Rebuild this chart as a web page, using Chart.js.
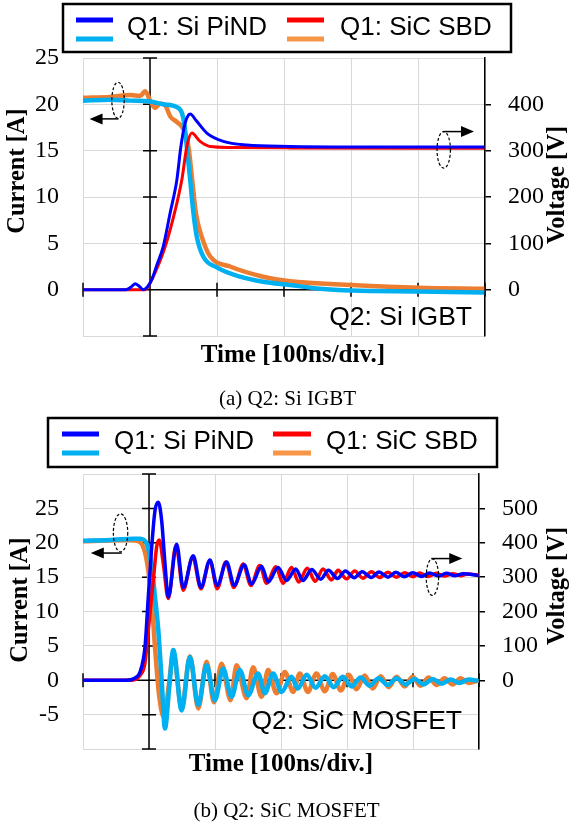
<!DOCTYPE html>
<html lang="en">
<head>
<meta charset="UTF-8">
<title>Q1 diode comparison: Si PiND vs SiC SBD</title>
<script src="https://cdn.jsdelivr.net/npm/chart.js"></script>
<style>
  body { margin: 0; background: #fff; }
  canvas { display: block; }
</style>
</head>
<body>
<canvas id="chartA" width="571" height="410"></canvas>
<canvas id="chartB" width="571" height="420"></canvas>
<script>
// time in ns (100 ns/div), 0 = switching instant; [time, value]
const legendLabels = ['Q1: Si PiND', 'Q1: SiC SBD'];

// (a) Q2: Si IGBT
const aVoltPiND = [[-100,0],[-36,0],[-29,5],[-22,13],[-15,6],[-10.6,0],[-4,6],[2.8,22],[10,52],[19.7,93],[30.1,166],[40.1,237],[46.1,309],[52.5,360],[57.4,377],[60,379],[68.9,365],[84.8,338],[109.5,320],[144.4,312],[208.9,309],[301,308],[499,308]];
const aVoltSBD  = [[-100,0],[-7,0],[2.8,22],[22.7,93],[36.5,165],[47.5,237],[55,309],[62.4,338],[74.8,320],[89.7,309],[119.5,307],[208.9,306],[499,305]];
const aCurrPiND = [[-100,20.4],[-59,20.5],[-29.5,20.4],[0,20.3],[19.7,20.0],[40.1,19.7],[47.5,19.1],[51,18.0],[55,15.4],[59.9,11.9],[64.8,8.3],[69.9,5.7],[79.3,3.6],[99.7,2.4],[134.4,1.4],[168.7,0.85],[208.9,0.5],[253.7,0.1],[301,-0.1],[400,-0.2],[499,-0.3]];
const aCurrSBD  = [[-100,20.7],[-59,20.8],[-29.5,21.0],[-14.6,20.9],[-7.2,21.4],[0.3,20.4],[7.7,19.6],[15.2,20.1],[22.7,19.9],[30.1,18.7],[40.1,18.1],[47.5,17.6],[52.5,16.9],[57.4,15.4],[62.9,11.9],[68.4,8.3],[77.3,5.7],[89.7,3.6],[119.5,2.5],[168.7,1.4],[208.9,0.9],[301,0.5],[400,0.2],[499,0.1]];

// (b) Q2: SiC MOSFET
const bVoltPiND = [[-100,0],[-36,0],[-18.6,10],[-13.6,24],[-6.1,96],[-1.1,242],[4.1,388],[9.1,494],[14.1,518],[19.2,464],[24.2,340],[29.2,242],[41.9,396],[51.9,270],[67,362],[78.7,270],[92.3,350],[103.3,276],[117.6,344],[129.1,276],[144.2,336],[155.4,280],[170.5,332],[180.5,286],[195.6,328],[208.3,290],[222.4,324],[233,290],[246.6,322],[260.2,294],[272,320],[285.5,296],[297.5,318],[311,298],[323,316],[336.5,299],[348.5,315],[362,300],[374,314],[387.5,301],[399.5,313],[413,302],[425,312],[438.5,303],[450.5,311],[464,304],[476,310],[499.3,305]];
const bVoltSBD  = [[-100,0],[-28.7,0],[-13.6,14],[-6.1,50],[-1.1,146],[6.5,290],[11.6,388],[15.6,408],[21.6,340],[29.2,238],[40.8,392],[51.9,262],[66.1,358],[78.7,266],[92.3,348],[103.3,266],[116.5,344],[128.6,270],[142.7,338],[154.3,276],[167.9,334],[178.1,282],[192.1,330],[203.2,282],[215.9,328],[226.9,286],[239.8,326],[251.9,288],[263.7,324],[276.4,292],[286.4,320],[299.1,295],[311.7,318],[324.2,297],[336.9,316],[349.5,299],[362,314],[374.7,300],[387.3,313],[399.9,301],[410,312],[422.6,302],[435.3,311],[447.8,303],[460.4,310],[472,304],[483.1,309],[499.3,306]];
const bCurrPiND = [[-100,20.3],[-59,20.4],[-24.2,20.6],[-13.6,20.6],[-3.5,19.9],[4.1,16.5],[9.1,12.1],[14.1,7.3],[19.2,0],[24.2,-7.0],[30.7,-1],[36.8,4.4],[49.5,-4.4],[62,3.4],[74.6,-3.6],[87.3,2.2],[99.8,-2.9],[112.4,1.7],[125.1,-2.4],[137.7,1.5],[150.2,-2.2],[165.3,1.0],[175.5,-1.9],[188,1.0],[200.8,-1.7],[215.9,0.5],[225.4,-1.2],[239,0.8],[252.6,-1.1],[266.3,0.6],[279.9,-1.0],[293.5,0.5],[307.1,-0.9],[320.7,0.4],[334.4,-0.8],[348,0.3],[361.6,-0.7],[375.2,0.3],[388.8,-0.6],[402.4,0.2],[416.1,-0.6],[429.7,0.2],[443.3,-0.5],[456.9,0.1],[470.5,-0.4],[484.1,0.1],[499.3,-0.1]];
const bCurrSBD  = [[-100,20.2],[-28.7,20.4],[-13.6,20.1],[-6.1,18.6],[-1.1,16],[4.1,11.6],[9.1,4.8],[15.1,-2],[22.7,-5.4],[30.3,-0.5],[36.8,4.0],[49.5,-4.1],[62,3.5],[74.6,-4.1],[87.3,2.7],[98.3,-3.2],[109.9,2.4],[123.5,-2.9],[132.7,2.2],[147.8,-2.6],[157.8,1.9],[170.5,-2.4],[180.5,1.5],[193.2,-1.9],[205.8,1.2],[218.3,-1.7],[228.5,1.0],[240.6,-1.7],[253.7,1.0],[266.3,-1.6],[278.4,0.9],[290.5,-1.5],[302.6,0.8],[314.7,-1.3],[326.8,0.7],[338.9,-1.2],[351,0.6],[363.1,-1.0],[375.2,0.5],[387.3,-0.9],[399.4,0.5],[411.5,-0.8],[423.6,0.4],[435.7,-0.7],[447.8,0.3],[460,-0.6],[472.1,0.3],[484.2,-0.4],[499.3,0]];

const BLUE = '#0000ff', RED = '#ff0000', LBLUE = '#00b0f0', ORANGE = '#ed7d31';
const SERIF = '"Liberation Serif", "Times New Roman", serif';
const SANS = '"Liberation Sans", Arial, sans-serif';

const toXY = arr => arr.map(p => ({ x: p[0], y: p[1] }));

// axes, legend, titles and annotations drawn on the canvas
const decor = {
  id: 'decor',
  beforeDatasetsDraw(chart, args, o) {
    const { ctx, chartArea: a, scales: { x, y } } = chart;
    const x0 = x.getPixelForValue(0), y0 = y.getPixelForValue(0);
    ctx.save();
    ctx.strokeStyle = '#000';
    ctx.lineWidth = 1.5;
    ctx.beginPath();
    ctx.moveTo(x0, a.top); ctx.lineTo(x0, a.bottom);
    for (let v = y.min; v <= y.max; v += 5) {
      const py = y.getPixelForValue(v);
      ctx.moveTo(x0 - 7, py); ctx.lineTo(x0 + 7, py);
    }
    ctx.moveTo(a.left, y0); ctx.lineTo(a.right, y0);
    for (let t = x.min; t <= x.max; t += 100) {
      const px = x.getPixelForValue(t);
      ctx.moveTo(px, y0 - 7); ctx.lineTo(px, y0 + 7);
    }
    ctx.stroke();
    ctx.restore();
  },
  afterDraw(chart, args, o) {
    const { ctx, scales: { x, y } } = chart;
    ctx.save();
    // legend
    const L = o.legend;
    ctx.strokeStyle = '#000';
    ctx.lineWidth = 2.5;
    ctx.strokeRect(L.box[0], L.box[1], L.box[2] - L.box[0], L.box[3] - L.box[1]);
    ctx.font = '26px ' + SANS;
    ctx.fillStyle = '#000';
    ctx.textAlign = 'left';
    ctx.textBaseline = 'middle';
    L.items.forEach((it, i) => {
      ctx.lineWidth = 5;
      ctx.strokeStyle = it.c[0];
      ctx.beginPath(); ctx.moveTo(it.x1, L.rows[0]); ctx.lineTo(it.x2, L.rows[0]); ctx.stroke();
      ctx.strokeStyle = it.c[1];
      ctx.beginPath(); ctx.moveTo(it.x1, L.rows[1]); ctx.lineTo(it.x2, L.rows[1]); ctx.stroke();
      ctx.fillText(legendLabels[i], it.tx, L.ty);
    });
    // annotations: dashed ellipse + arrow
    o.marks.forEach(m => {
      const cx = x.getPixelForValue(m.t), cy = y.getPixelForValue(m.v);
      ctx.setLineDash([3, 2]);
      ctx.lineWidth = 1.2;
      ctx.strokeStyle = '#000';
      ctx.beginPath(); ctx.ellipse(cx, cy, m.rx, m.ry, 0, 0, Math.PI * 2); ctx.stroke();
      ctx.setLineDash([]);
      const ay = y.getPixelForValue(m.av), ax1 = x.getPixelForValue(m.from), ax2 = x.getPixelForValue(m.to);
      const dir = Math.sign(ax2 - ax1);
      ctx.lineWidth = 1.5;
      ctx.beginPath(); ctx.moveTo(ax1, ay); ctx.lineTo(ax2 - dir * 10, ay); ctx.stroke();
      ctx.fillStyle = '#000';
      ctx.beginPath(); ctx.moveTo(ax2, ay); ctx.lineTo(ax2 - dir * 13, ay - 5.5); ctx.lineTo(ax2 - dir * 13, ay + 5.5); ctx.closePath(); ctx.fill();
    });
    // texts
    o.texts.forEach(t => {
      ctx.save();
      ctx.font = t.font;
      ctx.fillStyle = '#000';
      ctx.textAlign = t.align || 'center';
      ctx.textBaseline = 'middle';
      ctx.translate(t.x, t.y);
      if (t.rot) ctx.rotate(-Math.PI / 2);
      ctx.fillText(t.text, 0, 0);
      ctx.restore();
    });
    ctx.restore();
  }
};

function makeChart(id, p) {
  const line = (label, data, color, axis, w, order) => ({
    label, data: toXY(data), yAxisID: axis, borderColor: color, borderWidth: w,
    pointRadius: 0, cubicInterpolationMode: 'monotone', fill: false, order
  });
  return new Chart(document.getElementById(id), {
    type: 'line',
    data: {
      datasets: [
        line('Q1: Si PiND voltage', p.vPiND, BLUE, 'y1', p.wv, 0),
        line('Q1: SiC SBD voltage', p.vSBD, RED, 'y1', p.wv, 1),
        line('Q1: Si PiND current', p.iPiND, LBLUE, 'y', p.wi, 2),
        line('Q1: SiC SBD current', p.iSBD, ORANGE, 'y', p.wi, 3)
      ]
    },
    options: {
      responsive: false,
      animation: false,
      events: [],
      layout: { padding: { top: p.top, left: 0, right: 0, bottom: 0 } },
      scales: {
        x: {
          type: 'linear', min: -100, max: 500,
          ticks: { display: false, stepSize: 100 },
          grid: { color: '#d9d9d9', lineWidth: 1, drawTicks: false },
          border: { display: false },
          afterFit: s => { s.height = p.xh; }
        },
        y: {
          position: 'left', min: p.iMin, max: p.iMax,
          ticks: {
            stepSize: 5, padding: 24, color: '#000', font: { family: SERIF, size: 24 },
            callback: v => (v < p.iLab[0] || v > p.iLab[1]) ? '' : v
          },
          grid: { color: '#d9d9d9', lineWidth: 1, drawTicks: false },
          border: { display: false },
          afterFit: s => { s.width = 83; }
        },
        y1: {
          position: 'right', min: p.iMin * 20, max: p.iMax * 20,
          ticks: {
            stepSize: 100, padding: 17, color: '#000', font: { family: SERIF, size: 24 },
            callback: v => (v < p.vLab[0] || v > p.vLab[1]) ? null : v
          },
          grid: { drawOnChartArea: false, tickLength: 6, tickColor: '#000', lineWidth: 1.5 },
          border: { display: true, color: '#000', width: 1.5 },
          afterFit: s => { s.width = p.rw; }
        }
      },
      plugins: {
        legend: { display: false },
        tooltip: { enabled: false },
        decor: { legend: p.legend, marks: p.marks, texts: p.texts }
      }
    },
    plugins: [decor]
  });
}

const titleFont = 'bold 25px ' + SERIF;
const axisFont = 'bold 24.5px ' + SERIF;

makeChart('chartA', {
  vPiND: aVoltPiND, vSBD: aVoltSBD, iPiND: aCurrPiND, iSBD: aCurrSBD,
  wv: 3, wi: 4.5, top: 58, xh: 74, rw: 86,
  iMin: -5, iMax: 25, iLab: [0, 25], vLab: [0, 400],
  legend: {
    box: [63, 4, 511, 52], rows: [20, 39], ty: 28,
    items: [{ x1: 76, x2: 113, tx: 127, c: [BLUE, LBLUE] }, { x1: 287, x2: 324, tx: 340, c: [RED, '#f79646'] }]
  },
  marks: [
    { t: -47.7, v: 20.44, rx: 6.2, ry: 18, av: 18.43, from: -46.9, to: -90.2 },
    { t: 438.4, v: 15.09, rx: 6.7, ry: 18.3, av: 17.06, from: 437.4, to: 483.6 }
  ],
  texts: [
    { text: 'Time [100ns/div.]', x: 293, y: 356, font: titleFont },
    { text: 'Current [A]', x: 18, y: 171, rot: true, font: axisFont },
    { text: 'Voltage [V]', x: 558, y: 185, rot: true, font: axisFont },
    { text: 'Q2: Si IGBT', x: 472, y: 318, align: 'right', font: '26.5px ' + SANS },
    { text: '(a) Q2: Si IGBT', x: 287.5, y: 399, font: '21px ' + SERIF }
  ]
});

makeChart('chartB', {
  vPiND: bVoltPiND, vSBD: bVoltSBD, iPiND: bCurrPiND, iSBD: bCurrSBD,
  wv: 3.5, wi: 4.5, top: 64, xh: 81, rw: 92,
  iMin: -10, iMax: 30, iLab: [-5, 25], vLab: [0, 500],
  legend: {
    box: [48, 8, 497, 57], rows: [24, 43], ty: 32,
    items: [{ x1: 62, x2: 99, tx: 114, c: [BLUE, LBLUE] }, { x1: 273, x2: 311, tx: 326, c: [RED, '#f79646'] }]
  },
  marks: [
    { t: -43.1, v: 21.44, rx: 7.2, ry: 19, av: 18.5, from: -41.3, to: -88.2 },
    { t: 429.4, v: 15.0, rx: 6.2, ry: 18.3, av: 17.7, from: 427.7, to: 474.6 }
  ],
  texts: [
    { text: 'Time [100ns/div.]', x: 281, y: 355, font: titleFont },
    { text: 'Current [A]', x: 21, y: 190, rot: true, font: axisFont },
    { text: 'Voltage [V]', x: 558, y: 176, rot: true, font: axisFont },
    { text: 'Q2: SiC MOSFET', x: 462, y: 312, align: 'right', font: '26.5px ' + SANS },
    { text: '(b) Q2: SiC MOSFET', x: 286.5, y: 401, font: '21px ' + SERIF }
  ]
});
</script>
</body>
</html>
